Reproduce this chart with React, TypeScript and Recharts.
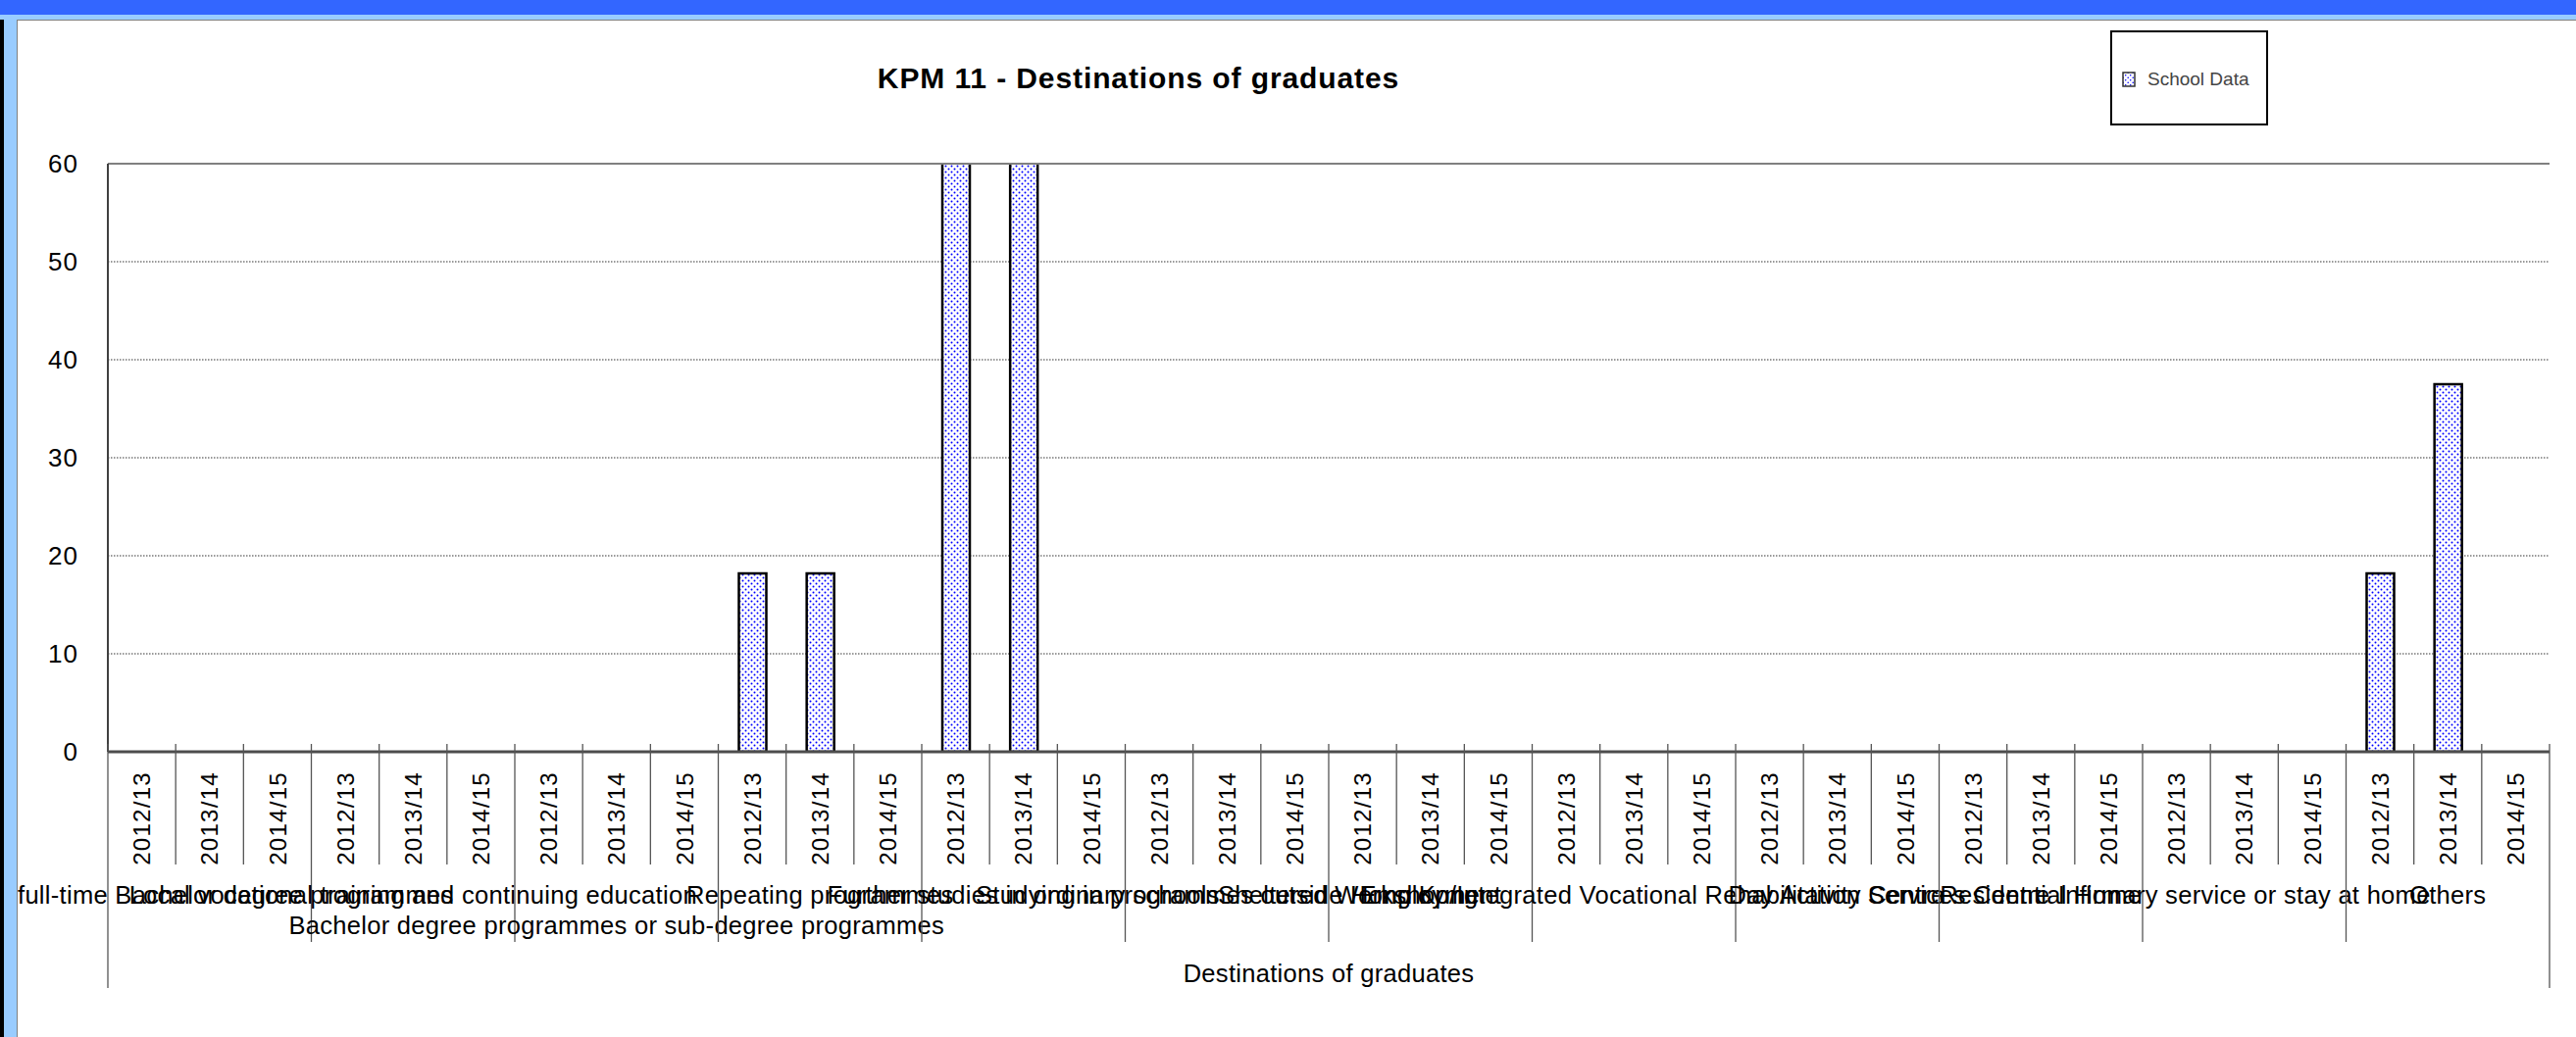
import { BarChart, Bar, XAxis, YAxis, CartesianGrid, ReferenceLine } from 'recharts'

const years = ['2012/13', '2013/14', '2014/15']

// "\n" starts a second row under the axis
const groupLabels = [
  'full-time Bachelor degree programmes',
  'Local vocational training and continuing education',
  '\nBachelor degree programmes or sub-degree programmes',
  'Repeating programmes',
  'Further studies in ordinary schools',
  'Studying in programmes outside Hong Kong',
  'Employment',
  'Sheltered Workshop/Integrated Vocational Rehabilitation Services Centre',
  'Day Activity Centre',
  'Residential Home',
  'Infirmary service or stay at home',
  'Others',
]

// % of graduates, one row per destination: 2012/13, 2013/14, 2014/15
const schoolData: (number | null)[] = [
  null, null, null,
  null, null, null,
  null, null, null,
  18.2, 18.2, null,
  63.6, 62.5, null,
  null, null, null,
  null, null, null,
  null, null, null,
  null, null, null,
  null, null, null,
  null, null, null,
  18.2, 37.5, null,
]

const yTicks = [0, 10, 20, 30, 40, 50, 60]

const FONT = '"Liberation Sans", Arial, sans-serif'
const CHART_W = 2609
const CHART_H = 1037
const PLOT_LEFT = 92
const PLOT_RIGHT = 27
const BAND = (CHART_W - PLOT_LEFT - PLOT_RIGHT) / (groupLabels.length * years.length)
const LABEL_SIZE = 25.5
const LABEL_SPACING = 0.3

const data = groupLabels.flatMap((group, gi) =>
  years.map((year, yi) => ({ key: `${gi}-${year}`, year, group, value: schoolData[gi * 3 + yi] }))
)

let ctx: CanvasRenderingContext2D | null = null
function textWidth(s: string) {
  if (!ctx) ctx = document.createElement('canvas').getContext('2d')
  if (!ctx) return s.length * LABEL_SIZE * 0.5
  ctx.font = `${LABEL_SIZE}px ${FONT}`
  return ctx.measureText(s).width + LABEL_SPACING * s.length
}

function CategoryTick(props: any) {
  const { x, y, payload } = props
  const i: number = payload.index ?? props.index
  const row = data[i]
  const left = x - BAND / 2
  const sepEnd = i === 0 ? 241 : i % 3 === 0 ? 194 : 115
  const last = i === data.length - 1
  const yTop = y + 20

  return (
    <g>
      <line x1={left} x2={left} y1={y - 8} y2={y + sepEnd} stroke="#555" strokeWidth={1.3} />
      {last && <line x1={x + BAND / 2} x2={x + BAND / 2} y1={y - 8} y2={y + 241} stroke="#555" strokeWidth={1.3} />}
      <text
        x={x}
        y={yTop}
        transform={`rotate(-90, ${x}, ${yTop})`}
        textAnchor="end"
        dy="0.36em"
        fontSize={24}
        letterSpacing={1.3}
        fill="#000"
      >
        {row.year}
      </text>
      {i % 3 === 1 &&
        row.group.split('\n').map((line, li) => {
          if (!line) return null
          const w = textWidth(line)
          const start = Math.min(Math.max(x - w / 2, 0), CHART_W - w)
          return (
            <text
              key={li}
              x={start}
              y={y + 146 + li * 31}
              dy="0.35em"
              textAnchor="start"
              fontSize={LABEL_SIZE}
              letterSpacing={LABEL_SPACING}
              fill="#000"
            >
              {line}
            </text>
          )
        })}
    </g>
  )
}

export default function App() {
  return (
    <div style={{ position: 'absolute', left: 0, top: 0, width: 2627, height: 1058, background: '#fff', overflow: 'hidden', fontFamily: FONT }}>
      {/* window frame */}
      <div style={{ position: 'absolute', left: 0, top: 0, width: 2627, height: 15, background: '#3366ff' }} />
      <div style={{ position: 'absolute', left: 0, top: 15, width: 2627, height: 5, background: '#99ccff' }} />
      <div style={{ position: 'absolute', left: 0, top: 20, width: 4, height: 1038, background: '#000' }} />
      <div style={{ position: 'absolute', left: 4, top: 20, width: 13, height: 1038, background: '#99ccff' }} />
      <div style={{ position: 'absolute', left: 17, top: 20, width: 2610, height: 1, background: '#808080' }} />
      <div style={{ position: 'absolute', left: 17, top: 20, width: 1, height: 1038, background: '#808080' }} />

      <div
        style={{
          position: 'absolute',
          left: 1161,
          top: 65,
          transform: 'translateX(-50%)',
          fontSize: 30,
          lineHeight: '30px',
          fontWeight: 'bold',
          letterSpacing: 0.9,
          whiteSpace: 'nowrap',
          color: '#000',
        }}
      >
        KPM 11 - Destinations of graduates
      </div>

      <div
        style={{
          position: 'absolute',
          left: 2152,
          top: 31,
          width: 157,
          height: 93,
          border: '2px solid #000',
          background: '#fff',
        }}
      >
        <svg width={14} height={16} style={{ position: 'absolute', left: 10, top: 40 }}>
          <defs>
            <pattern id="dotsLegend" width="5" height="5" patternUnits="userSpaceOnUse">
              <rect width="5" height="5" fill="#fff" />
              <circle cx="1.2" cy="1.2" r="0.8" fill="#0000ff" />
              <circle cx="3.7" cy="3.7" r="0.8" fill="#0000ff" />
            </pattern>
          </defs>
          <rect x={1} y={1} width={12} height={14} fill="url(#dotsLegend)" stroke="#333" strokeWidth={1.5} />
        </svg>
        <div style={{ position: 'absolute', left: 36, top: 37, fontSize: 19, lineHeight: '22px', color: '#444', whiteSpace: 'nowrap' }}>
          School Data
        </div>
      </div>

      <div style={{ position: 'absolute', left: 18, top: 21 }}>
        <BarChart
          width={CHART_W}
          height={CHART_H}
          data={data}
          margin={{ top: 146, right: PLOT_RIGHT, bottom: 0, left: 0 }}
          style={{ fontFamily: FONT }}
        >
          <defs>
            <pattern id="dots" width="6" height="6" patternUnits="userSpaceOnUse">
              <rect width="6" height="6" fill="#fff" />
              <circle cx="1.5" cy="1.5" r="1" fill="#0000ff" />
              <circle cx="4.5" cy="4.5" r="1" fill="#0000ff" />
            </pattern>
          </defs>
          <CartesianGrid vertical={false} stroke="#333" strokeDasharray="1.5 1.5" />
          <XAxis
            dataKey="key"
            interval={0}
            height={291}
            tickSize={0}
            tickMargin={0}
            tickLine={false}
            axisLine={{ stroke: '#4d4d4d', strokeWidth: 3 }}
            tick={<CategoryTick />}
            label={{ value: 'Destinations of graduates', position: 'insideBottom', offset: 56, fill: '#000', fontSize: LABEL_SIZE, letterSpacing: LABEL_SPACING }}
          />
          <YAxis
            width={PLOT_LEFT}
            domain={[0, 60]}
            ticks={yTicks}
            allowDataOverflow
            tickSize={0}
            tickMargin={30}
            tickLine={false}
            axisLine={{ stroke: '#404040', strokeWidth: 2 }}
            tick={{ fill: '#000', fontSize: 26, letterSpacing: 1 }}
          />
          <YAxis
            yAxisId="right"
            orientation="right"
            width={0}
            domain={[0, 60]}
            tick={false}
            tickLine={false}
            axisLine={{ stroke: '#808080', strokeWidth: 2 }}
          />
          <ReferenceLine y={60} stroke="#808080" strokeWidth={2} />
          <Bar dataKey="value" fill="url(#dots)" stroke="#000" strokeWidth={2.5} barSize={28} isAnimationActive={false} />
        </BarChart>
      </div>
    </div>
  )
}
